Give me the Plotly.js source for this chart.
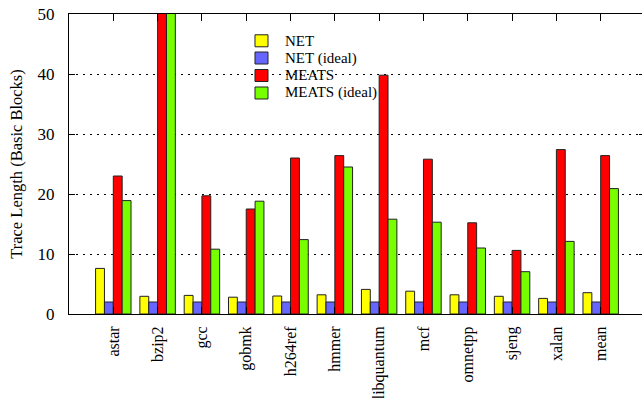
<!DOCTYPE html>
<html>
<head>
<meta charset="utf-8">
<script src="https://cdn.plot.ly/plotly-3.0.1.min.js"></script>
<style>
html,body{margin:0;padding:0;overflow:hidden;background:#fff;}
#chart{width:648px;height:398px;}
</style>
</head>
<body>
<div id="chart"></div>
<script>
const categories = ["astar","bzip2","gcc","gobmk","h264ref","hmmer","libquantum","mcf","omnetpp","sjeng","xalan","mean"];
const netValues       = [7.6, 2.95, 3.1, 2.8, 3.0, 3.2, 4.1, 3.8, 3.2, 2.95, 2.6, 3.55];
const netIdealValues  = [2.0, 2.0, 2.0, 2.0, 2.0, 2.0, 2.0, 2.0, 2.0, 2.0, 2.0, 2.0];
const meatsValues     = [23.0, 60, 19.7, 17.5, 26.0, 26.4, 39.8, 25.8, 15.2, 10.6, 27.4, 26.4];
const meatsIdealValues= [18.9, 60, 10.8, 18.8, 12.4, 24.5, 15.8, 15.3, 11.0, 7.05, 12.1, 20.9];
const seriesNames = ["NET","NET (ideal)","MEATS","MEATS (ideal)"];
const seriesColors = ["#ffff00","#6666ff","#ff0000","#77ff00"];
const yTickVals = [0,10,20,30,40,50];

const allValues = [netValues, netIdealValues, meatsValues, meatsIdealValues];
const font = "'Liberation Serif', 'Times New Roman', serif";

const traces = allValues.map((vals, i) => ({
  type: "bar",
  name: seriesNames[i],
  x: categories,
  y: vals,
  marker: {color: seriesColors[i], line: {color: "#222", width: 1}},
  cliponaxis: true,
  showlegend: false
}));

// manual legend (compact row spacing like the original)
const legendX0 = 0.3229, legendX1 = 0.3455, legendTextX = 0.3715;
const legendRowY = [0.9107, 0.8533, 0.795, 0.7367];
const legendHalfH = 0.02;
const shapes = seriesNames.map((n, i) => ({
  type: "rect", xref: "paper", yref: "paper", layer: "above",
  x0: legendX0, x1: legendX1,
  y0: legendRowY[i] - legendHalfH, y1: legendRowY[i] + legendHalfH,
  fillcolor: seriesColors[i], line: {color: "#222", width: 1}
}));
const annotations = seriesNames.map((n, i) => ({
  xref: "paper", yref: "paper", x: legendTextX, y: legendRowY[i],
  xanchor: "left", yanchor: "middle", showarrow: false, text: n,
  font: {family: font, size: 15, color: "#000"}
}));

const layout = {
  width: 648,
  height: 398,
  margin: {l: 69, r: 3, t: 14, b: 84},
  paper_bgcolor: "#fff",
  plot_bgcolor: "#fff",
  barmode: "group",
  bargap: 0.2,
  bargroupgap: 0,
  font: {family: font, size: 16, color: "#000"},
  showlegend: false,
  shapes: shapes,
  annotations: annotations,
  xaxis: {
    type: "category",
    range: [-1, 12],
    showline: true, linecolor: "#000", linewidth: 1,
    mirror: "ticks",
    ticks: "inside", ticklen: 7, tickcolor: "#000",
    tickangle: -90,
    ticklabelstandoff: 5,
    showgrid: false,
    zeroline: false,
    tickfont: {family: font, size: 16, color: "#000"}
  },
  yaxis: {
    range: [0, 50],
    tickvals: yTickVals,
    ticktext: yTickVals.map(String),
    showline: true, linecolor: "#000", linewidth: 1,
    mirror: "ticks",
    ticks: "inside", ticklen: 6, tickcolor: "#000",
    ticklabelstandoff: 10,
    showgrid: true, gridcolor: "#000", gridwidth: 1, griddash: "2px,5px",
    zeroline: false,
    tickfont: {family: font, size: 17, color: "#000"},
    title: {text: "Trace Length (Basic Blocks)", font: {family: font, size: 16.5, color: "#000"}, standoff: 10}
  }
};

Plotly.newPlot("chart", traces, layout, {displayModeBar: false, staticPlot: true});
</script>
</body>
</html>
